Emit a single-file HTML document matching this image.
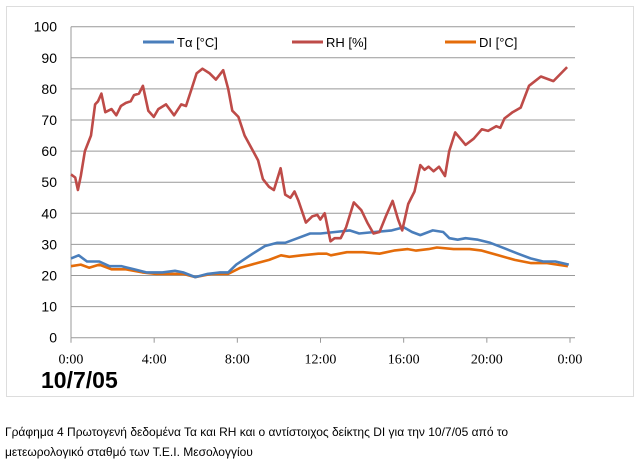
<!DOCTYPE html>
<html><head><meta charset="utf-8">
<style>
body{margin:0;background:#fff;width:640px;height:464px;overflow:hidden;font-family:"Liberation Sans","DejaVu Sans",sans-serif}
</style></head><body>
<svg id="chart" width="640" height="464" xmlns="http://www.w3.org/2000/svg" style="position:absolute;left:0;top:0">
<rect x="6.5" y="6.5" width="627" height="390" fill="#fff" stroke="#bbb" stroke-dasharray="1,1"/>
<g id="grid"></g><g id="series"></g><g id="legend"></g>
<text x="41" y="388" font-size="23" font-weight="bold" fill="#000">10/7/05</text>
<text x="5" y="436" font-size="12" fill="#000">Γράφημα 4 Πρωτογενή δεδομένα Τα και RH και ο αντίστοιχος δείκτης DI για την 10/7/05 από το</text>
<text x="5" y="456" font-size="12" fill="#000">μετεωρολογικό σταθμό των Τ.Ε.Ι. Μεσολογγίου</text>
</svg>
<script>
const yTicks=[0,10,20,30,40,50,60,70,80,90,100];
const xTickLabels=["0:00","4:00","8:00","12:00","16:00","20:00","0:00"];
const xTickHours=[0,4,8,12,16,20,24];
const rhHours=[0,0.2,0.33,0.47,0.67,0.96,1.16,1.3,1.46,1.65,1.95,2.18,2.4,2.64,2.87,3.03,3.27,3.46,3.72,3.98,4.2,4.57,4.96,5.3,5.53,5.8,6.04,6.32,6.67,6.97,7.32,7.56,7.76,8.05,8.35,8.84,9.0,9.23,9.53,9.76,10.08,10.3,10.55,10.75,10.94,11.3,11.6,11.85,11.99,12.2,12.48,12.68,12.97,13.23,13.6,13.96,14.25,14.55,14.84,15.14,15.47,15.73,15.93,16.22,16.52,16.8,17.0,17.2,17.44,17.7,17.99,18.19,18.48,18.98,19.37,19.76,20.06,20.45,20.65,20.85,21.24,21.63,22.03,22.22,22.6,23.2,23.86];
const rhValues=[52.5,51.5,47.5,52,60,65,75,76,78.5,72.5,73.5,71.5,74.5,75.5,76,78,78.5,81,73,71,73.5,75,71.5,75,74.5,80,85,86.5,85,83,86,80,73,71,65,59,57,51,48.5,47.5,54.5,46,45,47,44,37,39,39.5,38,40,31,32,32,35.5,43.5,41,37,33.5,34,39,44,38,34.5,43,47,55.5,54,55,53.5,55,52,60,66,62,64,67,66.5,68,67.5,70.5,72.5,74,81,82,84,82.5,87];
const taHours=[0,0.37,0.77,1.36,1.85,2.44,3.03,3.62,4.4,5.0,5.39,5.98,6.57,7.17,7.56,7.95,8.74,9.33,9.92,10.3,10.9,11.5,12.0,12.7,13.4,13.86,14.6,15.43,16.0,16.4,16.8,17.4,17.9,18.2,18.6,18.98,19.57,20.16,20.94,21.5,22.1,22.7,23.3,23.94];
const taValues=[25.5,26.5,24.5,24.5,23,23,22,21,21,21.5,21,19.5,20.5,21,21,23.5,27,29.5,30.5,30.5,32,33.5,33.5,34,34.5,33.5,34,34.5,35.5,34,33,34.5,34,32,31.5,32,31.5,30.5,28.5,27,25.5,24.5,24.5,23.5];
const diHours=[0,0.47,0.87,1.36,1.95,2.64,3.43,4.11,4.8,5.39,5.98,6.77,7.56,8.15,8.94,9.53,10.1,10.5,11.1,11.9,12.3,12.5,13.27,14.05,14.84,15.53,16.2,16.6,17.2,17.6,18.4,19.17,19.76,20.55,21.34,22.13,22.9,23.9];
const diValues=[23,23.5,22.5,23.5,22,22,21,20.5,20.5,20.5,19.5,20.5,20.5,22.5,24,25,26.5,26,26.5,27,27,26.5,27.5,27.5,27,28,28.5,28,28.5,29,28.5,28.5,28,26.5,25,24,24,23];
const seriesNames=["Tα [°C]","RH [%]","DI [°C]"];

const X0=71,X1=570,Y0=337.7,YPER=3.11;
const xs=h=>X0+(X1-X0)*h/24;
const ys=v=>Y0-v*YPER;
const NS="http://www.w3.org/2000/svg";
function mk(tag,attrs,parent){const e=document.createElementNS(NS,tag);for(const k in attrs)e.setAttribute(k,attrs[k]);parent.appendChild(e);return e;}
const grid=document.getElementById('grid');
yTicks.forEach(v=>{
  const l=mk('line',{x1:X0,x2:575,y1:ys(v),y2:ys(v),stroke:'#999','stroke-width':1},grid);
  
  
  const t=mk('text',{x:57,y:ys(v)+5,'text-anchor':'end','font-size':14,fill:'#000','font-family':'Liberation Sans, sans-serif'},grid);
  t.textContent=v;
  
  
});
const ax=mk('line',{x1:X0,x2:X0,y1:ys(100),y2:ys(0),stroke:'#999'},grid);


xTickHours.forEach((h,i)=>{
  const tk=mk('line',{x1:xs(h),x2:xs(h),y1:ys(0),y2:ys(0)+5,stroke:'#999'},grid);
  
  
  const t=mk('text',{x:xs(h),y:ys(0)+26,'text-anchor':'middle','font-size':14,fill:'#000','font-family':'Liberation Serif, serif'},grid);
  t.textContent=xTickLabels[i];
  
  
});
const ser=document.getElementById('series');
function line(hours,vals,color,name){
  const d=hours.map((h,i)=>(i?'L':'M')+xs(h).toFixed(1)+','+ys(vals[i]).toFixed(1)).join(' ');
  const p=mk('path',{d:d,fill:'none',stroke:color,'stroke-width':2.6,'stroke-linejoin':'round'},ser);
  
  
}
line(diHours,diValues,'#e46c0a','di-line');
line(taHours,taValues,'#4a7ebb','ta-line');
line(rhHours,rhValues,'#be4b48','rh-line');
const leg=document.getElementById('legend');
const legColors=['#4a7ebb','#be4b48','#e46c0a'];
const legX=[143,292,445];
seriesNames.forEach((n,i)=>{
  const g=mk('g',{},leg);
  
  
  mk('line',{x1:legX[i],x2:legX[i]+31,y1:42,y2:42,stroke:legColors[i],'stroke-width':3},g);
  const t=mk('text',{x:legX[i]+34,y:47,'font-size':13,fill:'#000'},g);
  t.textContent=n;
});
</script>
</body></html>
